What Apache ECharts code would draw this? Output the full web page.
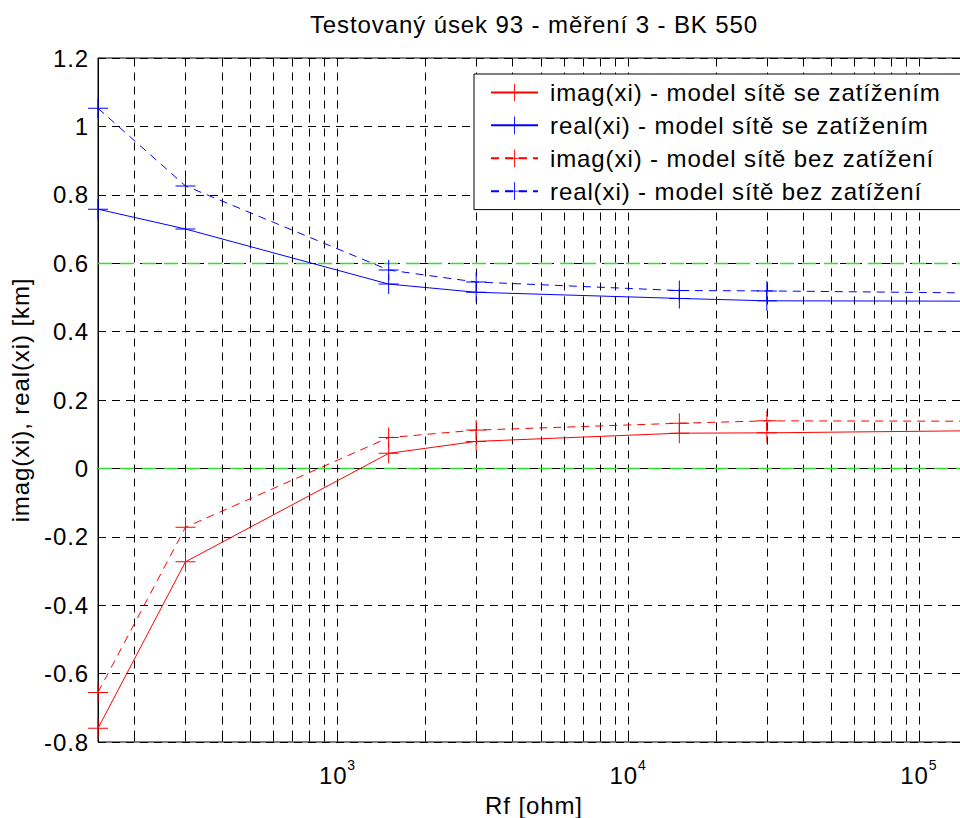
<!DOCTYPE html>
<html><head><meta charset="utf-8">
<style>
html,body{margin:0;padding:0;background:#fff}
#c{width:960px;height:818px}
#c text{letter-spacing:0.9px}
</style>
<script src="https://cdn.jsdelivr.net/npm/echarts@6/dist/echarts.min.js"></script>
</head><body><div id="c"></div>
<script>
// ---- data ----
const rf = [150, 300, 1500, 3000, 15000, 30000, 150000];
const imagSe = [-0.760, -0.273, 0.044, 0.079, 0.103, 0.104, 0.110];
const realSe = [0.758, 0.700, 0.539, 0.515, 0.497, 0.490, 0.489];
const imagBez = [-0.655, -0.172, 0.090, 0.112, 0.132, 0.139, 0.138];
const realBez = [1.053, 0.826, 0.580, 0.545, 0.520, 0.519, 0.513];
const seriesNames = [
  'imag(xi) - model sítě se zatížením',
  'real(xi) - model sítě se zatížením',
  'imag(xi) - model sítě bez zatížení',
  'real(xi) - model sítě bez zatížení'
];
const gridX = [200,300,400,500,600,700,800,900,1000,
               2000,3000,4000,5000,6000,7000,8000,9000,10000,
               20000,30000,40000,50000,60000,70000,80000,90000,100000];
const refLevels = [0, 0.6];
const titleText = 'Testovaný úsek 93 - měření 3 - BK 550';
const xName = 'Rf [ohm]';
const yName = 'imag(xi), real(xi) [km]';
const yMin = -0.8, yMax = 1.2, yStep = 0.2;
const xMin = 150, xMax = 150000;

// ---- text measuring incl. letter spacing ----
const LS = 0.9;
const mctx = document.createElement('canvas').getContext('2d');
echarts.setPlatformAPI({
  measureText(text, font) {
    mctx.font = font || '12px sans-serif';
    const m = mctx.measureText(text);
    return { width: m.width + LS * Array.from(text || '').length };
  }
});

const FONT = 'Liberation Sans';
const plus = 'path://M9.5,0H10.5V9.5H20V10.5H10.5V20H9.5V10.5H0V9.5H9.5Z';
const toPts = ys => rf.map((x, i) => [x, ys[i]]);

function lineSeries(name, ys, color, dashed) {
  return {
    name, type: 'line', data: toPts(ys), z: 3,
    symbol: plus, symbolSize: 20, showSymbol: true, animation: false,
    itemStyle: { color },
    lineStyle: { color, width: 1, type: dashed ? [8, 6] : 'solid' },
    emphasis: { disabled: true }
  };
}

const chart = echarts.init(document.getElementById('c'), null, { renderer: 'svg' });
chart.setOption({
  animation: false,
  backgroundColor: '#fff',
  textStyle: { fontFamily: FONT, color: '#000' },
  title: {
    text: titleText, left: 534, top: 12, padding: 0, textAlign: 'center',
    textStyle: { fontFamily: FONT, fontSize: 24, fontWeight: 'normal', color: '#000' }
  },
  grid: {
    left: 98, right: -10, top: 58, bottom: 76,
    outerBoundsMode: 'none', containLabel: false,
    show: true, borderColor: '#000', borderWidth: 1, backgroundColor: '#fff'
  },
  legend: {
    data: seriesNames, orient: 'vertical', left: 474, top: 74,
    padding: [6, 40, 6, 16], itemGap: 8, itemWidth: 47, itemHeight: 22,
    backgroundColor: '#fff', borderColor: '#000', borderWidth: 1, borderRadius: 0,
    selectedMode: false,
    textStyle: { fontFamily: FONT, fontSize: 24, color: '#000', lineHeight: 22, padding: [0, 0, 0, 7] }
  },
  xAxis: {
    type: 'log', logBase: 10, min: xMin, max: xMax,
    name: xName, nameLocation: 'middle', nameGap: 49,
    nameTextStyle: { fontFamily: FONT, fontSize: 24, color: '#000' },
    axisLine: { show: true, lineStyle: { color: '#000', width: 1 } },
    axisTick: { show: false },
    splitLine: { show: false },
    axisLabel: {
      margin: 16, showMinLabel: false, showMaxLabel: false,
      formatter: v => {
        const e = Math.log10(v);
        if (Math.abs(e - Math.round(e)) > 1e-6) return '';
        return '{b|10}{s|' + Math.round(e) + '}';
      },
      rich: {
        b: { fontFamily: FONT, fontSize: 24, color: '#000', verticalAlign: 'bottom', lineHeight: 30 },
        s: { fontFamily: FONT, fontSize: 14, color: '#000', verticalAlign: 'top', lineHeight: 14 }
      }
    }
  },
  yAxis: {
    type: 'value', min: yMin, max: yMax, interval: yStep,
    name: yName, nameLocation: 'middle', nameGap: 62, nameRotate: 90,
    nameTextStyle: { fontFamily: FONT, fontSize: 24, color: '#000' },
    axisLine: { show: true, lineStyle: { color: '#000', width: 1 } },
    axisTick: { show: true, inside: true, length: 7, lineStyle: { color: '#000' } },
    splitLine: { show: true, lineStyle: { color: '#000', width: 1, type: [8, 6] } },
    axisLabel: {
      margin: 9, fontFamily: FONT, fontSize: 24, color: '#000',
      formatter: v => String(Math.round(v * 10) / 10)
    }
  },
  series: [
    {
      type: 'custom', name: 'xgrid', silent: true, z: 1,
      data: gridX.map(v => [v, 0]),
      encode: { x: 0, y: 1 },
      renderItem(params, api) {
        const v = api.value(0);
        const t = api.coord([v, yMax]);
        const b = api.coord([v, yMin]);
        const x = Math.round(t[0]) + 0.5;
        const ty = Math.round(t[1]) + 0.5, by = Math.round(b[1]) - 0.5;
        return {
          type: 'group', children: [
            { type: 'line', shape: { x1: x, y1: ty, x2: x, y2: by }, style: { stroke: '#000', lineWidth: 1, lineDash: [8, 6] } },
            { type: 'line', shape: { x1: x, y1: by, x2: x, y2: by - 7 }, style: { stroke: '#000', lineWidth: 1 } },
            { type: 'line', shape: { x1: x, y1: ty, x2: x, y2: ty + 7 }, style: { stroke: '#000', lineWidth: 1 } }
          ]
        };
      }
    },
    {
      type: 'custom', name: 'ref', silent: true, z: 2,
      data: refLevels.map(v => [xMin, v]),
      encode: { x: 0, y: 1 },
      renderItem(params, api) {
        const v = api.value(1);
        const l = api.coord([xMin, v]);
        const r = api.coord([xMax, v]);
        const y = Math.round(l[1]) + 0.5;
        return { type: 'line', shape: { x1: l[0], y1: y, x2: r[0], y2: y }, style: { stroke: '#33dd33', lineWidth: 1.5, lineDash: [14, 8] } };
      }
    },
    lineSeries(seriesNames[0], imagSe, '#ff0000', false),
    lineSeries(seriesNames[1], realSe, '#0000ff', false),
    lineSeries(seriesNames[2], imagBez, '#ff0000', true),
    lineSeries(seriesNames[3], realBez, '#0000ff', true)
  ]
});
</script>
</body></html>
